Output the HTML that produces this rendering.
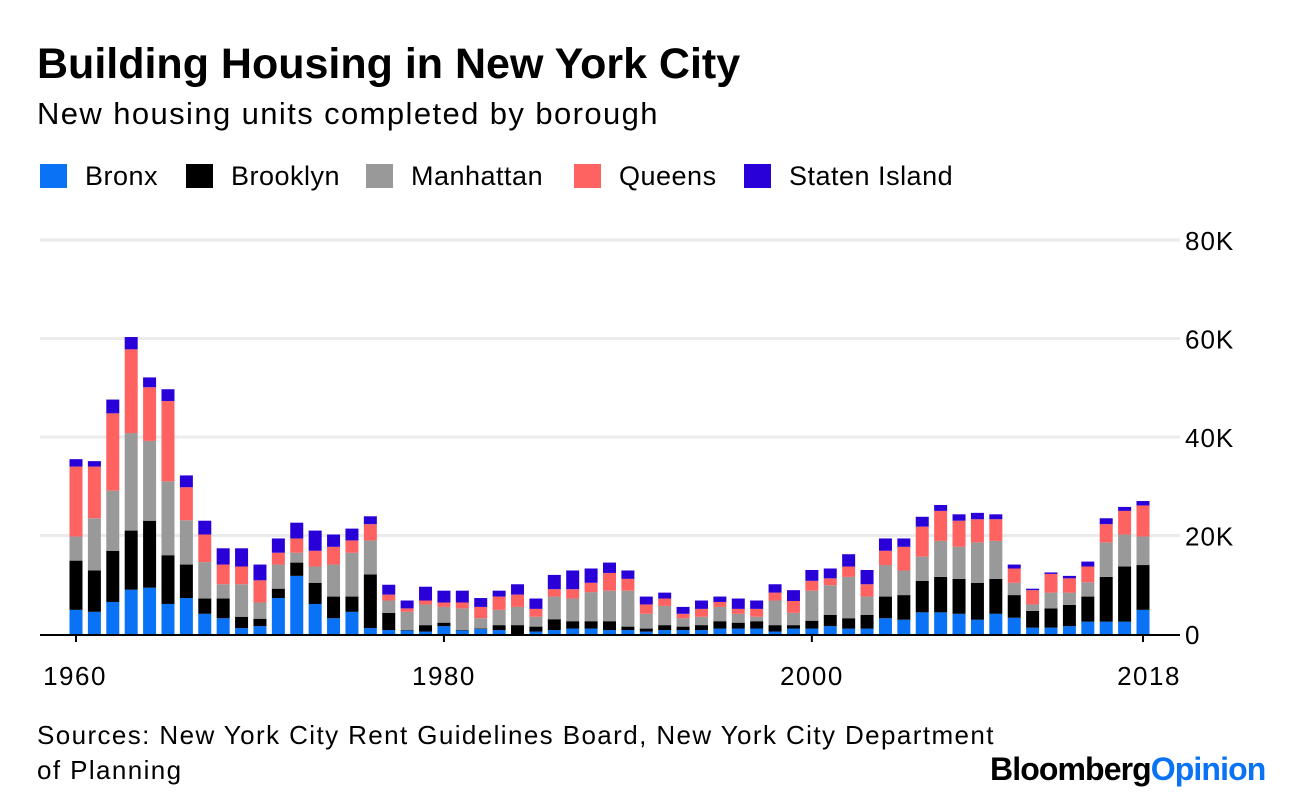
<!DOCTYPE html>
<html><head><meta charset="utf-8">
<style>
body{margin:0;background:#fff;font-family:"Liberation Sans",Arial,sans-serif;color:#000;}
#wrap{position:relative;width:1296px;height:802px;overflow:hidden;}
.t{position:absolute;white-space:nowrap;}
.lg{position:absolute;white-space:nowrap;top:161px;font-size:27px;letter-spacing:0.5px;}
.lg span{display:inline-block;width:27px;height:24px;vertical-align:-3px;margin-right:18px}
</style></head>
<body>
<div id="wrap">
<div class="t" style="left:37px;top:40px;font-size:43px;font-weight:bold;letter-spacing:0px;">Building Housing in New York City</div>
<div class="t" style="left:37px;top:96px;font-size:31px;letter-spacing:1.4px;">New housing units completed by borough</div>
<div>
<div class="lg" style="left:40px;"><span style="background:#0a72f5"></span>Bronx</div>
<div class="lg" style="left:186px;"><span style="background:#000"></span>Brooklyn</div>
<div class="lg" style="left:366px;"><span style="background:#999"></span>Manhattan</div>
<div class="lg" style="left:574px;"><span style="background:#ff6361"></span>Queens</div>
<div class="lg" style="left:744px;"><span style="background:#2a00d8"></span>Staten Island</div>
</div>
<svg id="chart" width="1296" height="802" style="position:absolute;left:0;top:0"></svg>
<div class="t" style="left:37px;top:718px;font-size:26px;letter-spacing:1.4px;line-height:35px;">Sources: New York City Rent Guidelines Board, New York City Department<br>of Planning</div>
<div class="t" style="left:990px;top:751px;font-size:32px;font-weight:bold;letter-spacing:-0.9px;">Bloomberg<span style="color:#0a72f5">Opinion</span></div>
</div>
<script>
const years=[];for(let y=1960;y<=2018;y++)years.push(y);
const bronx=[4.9,4.5,6.5,9.0,9.4,6.1,7.3,4.1,3.2,1.2,1.6,7.3,11.8,6.1,3.2,4.5,1.2,0.8,0.7,0.5,1.6,0.7,1.0,0.8,0.0,0.5,0.8,1.1,1.1,0.8,0.8,0.5,0.8,0.8,0.8,1.1,1.1,1.1,0.5,1.1,1.1,1.6,1.1,1.1,3.2,2.9,4.4,4.4,4.1,2.9,4.1,3.3,1.3,1.3,1.6,2.5,2.5,2.5,4.9];
const brooklyn=[10.0,8.4,10.4,12.0,13.6,9.9,6.8,3.1,4.0,2.3,1.5,1.9,2.7,4.3,4.4,3.1,10.9,3.5,0.1,1.3,0.7,0.1,0.1,1.0,1.8,1.0,2.2,1.5,1.5,1.8,0.7,0.6,1.0,0.7,1.0,1.5,1.2,1.5,1.3,0.7,1.6,2.3,2.1,2.8,4.4,5.0,6.4,7.2,7.1,7.5,7.1,4.6,3.4,3.9,4.3,5.1,9.1,11.2,9.1];
const manhattan=[4.9,10.6,12.2,19.8,16.2,15.0,9.0,7.4,2.9,6.6,3.3,4.9,2.0,3.3,6.5,8.9,6.9,2.5,3.7,4.2,3.2,4.4,2.1,3.1,3.7,2.0,4.6,4.6,5.9,6.2,7.3,3.0,3.9,1.7,1.7,2.9,1.8,0.9,5.0,2.5,6.1,6.0,8.4,3.7,6.4,5.0,4.9,7.3,6.5,8.2,7.7,2.5,1.3,3.2,2.5,2.9,7.0,6.5,5.8];
const queens=[14.2,10.5,15.7,17.0,10.9,16.3,6.7,5.6,4.0,3.6,4.5,2.4,2.9,3.2,3.6,2.5,3.3,1.2,0.7,0.8,0.9,1.2,2.3,2.7,2.5,1.6,1.5,1.9,1.9,3.6,2.4,1.9,1.5,0.9,1.6,1.0,1.0,1.6,1.6,2.4,2.0,1.4,2.1,2.5,2.9,4.8,6.1,6.1,5.3,4.7,4.4,2.9,2.9,3.8,2.9,3.2,3.7,4.8,6.3];
const statenIsland=[1.5,1.1,2.8,2.5,2.0,2.4,2.4,2.8,3.3,3.7,3.2,2.9,3.2,4.1,2.5,2.4,1.6,2.0,1.6,2.8,2.4,2.4,1.8,1.2,2.1,2.1,2.9,3.8,2.9,2.1,1.7,1.6,1.2,1.4,1.7,1.1,2.1,1.7,1.7,2.2,2.2,2.0,2.5,2.9,2.5,1.7,2.0,1.2,1.3,1.3,1.0,0.8,0.3,0.3,0.5,1.0,1.2,0.8,0.9];
const yTicks=[0,20,40,60,80];
const yTickLabels=["0","20K","40K","60K","80K"];
const xTickYears=[1960,1980,2000,2018];

const svg=document.getElementById('chart');
const NS='http://www.w3.org/2000/svg';
const x0=76,x1=1143,yBase=634,yTop=240;
const xs=y=>x0+(y-1960)*(x1-x0)/58;
const ys=v=>yBase-v*(yBase-yTop)/80;
function mk(tag,attrs){const e=document.createElementNS(NS,tag);for(const k in attrs)e.setAttribute(k,attrs[k]);svg.appendChild(e);return e;}
yTicks.forEach((t,i)=>{
  if(t>0){const g=mk('line',{x1:40,x2:1180,y1:ys(t),y2:ys(t),stroke:'#ebebeb','stroke-width':3});
  
  }
  const l=mk('text',{x:1185,y:ys(t)+10,'font-size':26,'letter-spacing':1,'font-family':'Liberation Sans, sans-serif',fill:'#000'});
  l.textContent=yTickLabels[i];
  
  
});
const series=[[bronx,'#0a72f5','bronx'],[brooklyn,'#000','brooklyn'],[manhattan,'#999','manhattan'],[queens,'#ff6361','queens'],[statenIsland,'#2a00d8','staten-island']];
years.forEach((yr,i)=>{
  let cum=0;
  series.forEach(([arr,col,nm])=>{
    const v=arr[i];
    const r=mk('rect',{x:xs(yr)-6.5,y:ys(cum+v),width:13,height:Math.max(0,ys(cum)-ys(cum+v)),fill:col});
    
    
    cum+=v;
  });
});
const ax=mk('line',{x1:40,x2:1180,y1:yBase+1,y2:yBase+1,stroke:'#000','stroke-width':2});


xTickYears.forEach(yr=>{
  const tk=mk('line',{x1:xs(yr),x2:xs(yr),y1:yBase,y2:yBase+8,stroke:'#000','stroke-width':2});
  
  
  const l=mk('text',{x:xs(yr)+(yr===2018?6:(yr===1960?-1:0)),y:685,'font-size':26,'letter-spacing':1.5,'text-anchor':'middle','font-family':'Liberation Sans, sans-serif',fill:'#000'});
  l.textContent=yr;
  
  
});
</script>
</body></html>
